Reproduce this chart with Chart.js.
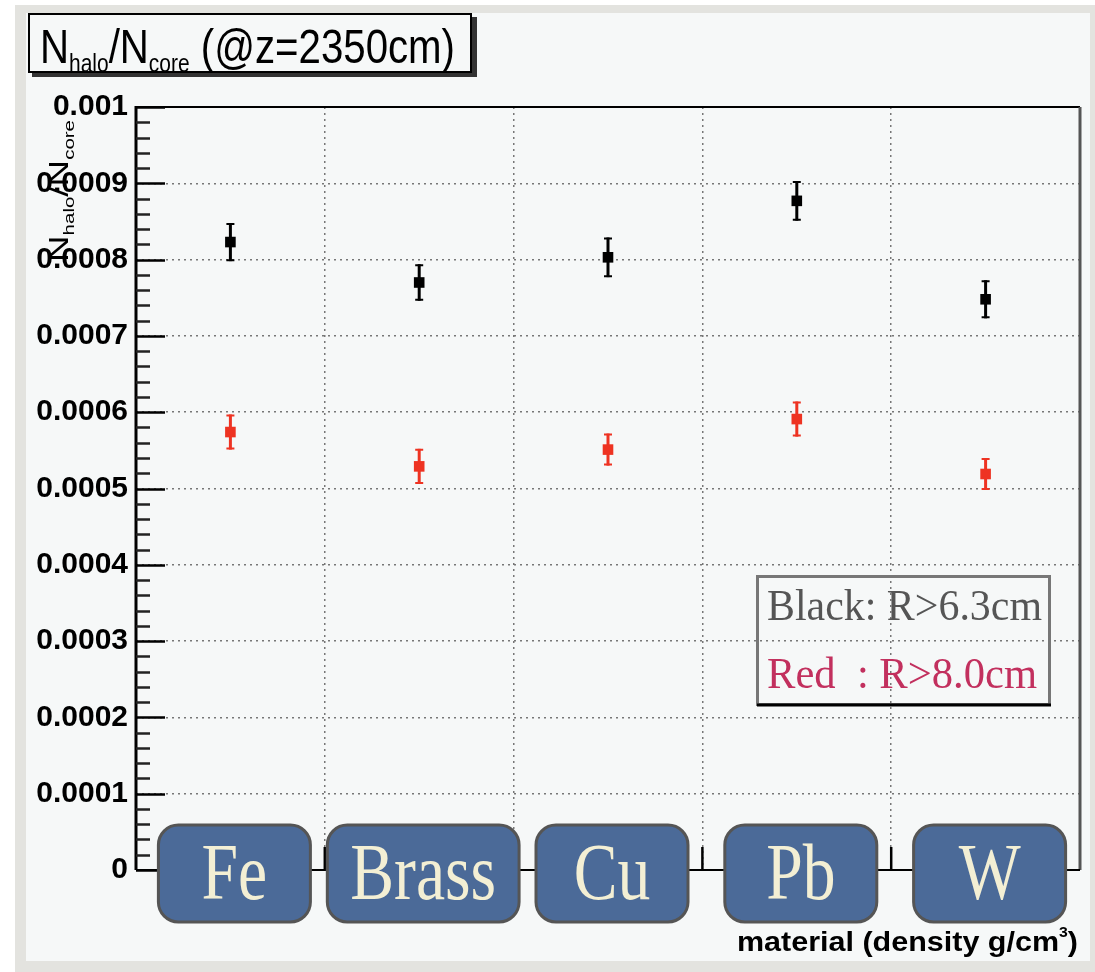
<!DOCTYPE html>
<html>
<head>
<meta charset="utf-8">
<script src="https://cdn.jsdelivr.net/npm/chart.js@4.4.1/dist/chart.umd.min.js"></script>
<style>
    html, body { margin: 0; padding: 0; background: #ffffff; }
    #wrap { width: 1095px; height: 972px; }
</style>
</head>
<body>
<div id="wrap"><canvas id="chart" width="1095" height="972"></canvas></div>
<script>
// data
const materials = ['Fe', 'Brass', 'Cu', 'Pb', 'W'];
const materialX = [1, 2, 3, 4, 5];
const blackValues = [0.000823, 0.000770, 0.000803, 0.000877, 0.000748];
const blackErrors = [0.000025, 0.000024, 0.000026, 0.000026, 0.000025];
const redValues = [0.000574, 0.000529, 0.000551, 0.000591, 0.000519];
const redErrors = [0.000023, 0.000023, 0.000021, 0.000023, 0.000021];
const xGridValues = [1.5, 2.5, 3.5, 4.5];
const legendLines = ['Black: R>6.3cm', 'Red  : R>8.0cm'];

const PANEL = '#f6f8f8';
const BLACK = '#000000';
const RED = '#ee3322';

function toPoints(values) {
    return values.map((v, i) => ({ x: materialX[i], y: v }));
}

// draw a run of text pieces (sub/superscripts), squeezed to a given width
function drawRich(ctx, parts, width) {
    let natural = 0;
    for (let p of parts) {
        ctx.font = p.font;
        natural += ctx.measureText(p.t).width;
    }
    const sx = width / natural;
    ctx.save();
    ctx.scale(sx, 1);
    let x = 0;
    for (let p of parts) {
        ctx.font = p.font;
        ctx.fillText(p.t, x, p.dy || 0);
        x += ctx.measureText(p.t).width;
    }
    ctx.restore();
}

const backgroundPlugin = {
    id: 'rootBackground',
    beforeDraw(chart) {
        const ctx = chart.ctx;
        ctx.save();
        ctx.fillStyle = '#ffffff';
        ctx.fillRect(0, 0, chart.width, chart.height);
        ctx.fillStyle = '#e3e3df';
        ctx.fillRect(15, 5, chart.width - 15, chart.height - 5);
        ctx.fillStyle = PANEL;
        ctx.fillRect(26, 13, 1064, 948);
        ctx.restore();
    }
};

const errorBarPlugin = {
    id: 'errorBars',
    beforeDatasetsDraw(chart) {
        const ctx = chart.ctx;
        const yScale = chart.scales.y;
        ctx.save();
        chart.data.datasets.forEach((ds, di) => {
            const meta = chart.getDatasetMeta(di);
            ctx.strokeStyle = ds.backgroundColor;
            meta.data.forEach((pt, i) => {
                const v = ds.data[i].y;
                const e = ds.errors[i];
                const yTop = yScale.getPixelForValue(v + e);
                const yBot = yScale.getPixelForValue(v - e);
                ctx.lineWidth = 3;
                ctx.beginPath();
                ctx.moveTo(pt.x, yTop);
                ctx.lineTo(pt.x, yBot);
                ctx.stroke();
                ctx.lineWidth = 2;
                ctx.beginPath();
                ctx.moveTo(pt.x - 4, yTop + 1);
                ctx.lineTo(pt.x + 4, yTop + 1);
                ctx.moveTo(pt.x - 4, yBot - 1);
                ctx.lineTo(pt.x + 4, yBot - 1);
                ctx.stroke();
            });
        });
        ctx.restore();
    }
};

const decorPlugin = {
    id: 'rootDecor',
    afterDraw(chart) {
        const ctx = chart.ctx;
        const area = chart.chartArea;
        const xScale = chart.scales.x;
        const yScale = chart.scales.y;
        ctx.save();

        // frame
        ctx.strokeStyle = BLACK;
        ctx.lineWidth = 2;
        ctx.beginPath();
        ctx.moveTo(area.left, area.top);
        ctx.lineTo(area.right, area.top);
        ctx.stroke();
        ctx.strokeStyle = '#555555';
        ctx.lineWidth = 3;
        ctx.beginPath();
        ctx.moveTo(area.right, area.top);
        ctx.lineTo(area.right, area.bottom);
        ctx.stroke();
        ctx.strokeStyle = BLACK;
        ctx.lineWidth = 2;
        ctx.beginPath();
        ctx.moveTo(area.left, area.bottom);
        ctx.lineTo(area.right, area.bottom);
        ctx.stroke();
        ctx.lineWidth = 3;
        ctx.beginPath();
        ctx.moveTo(area.left, area.top - 1);
        ctx.lineTo(area.left, area.bottom);
        ctx.stroke();

        // y ticks pointing inward, major + minor
        for (let k = 0; k <= 50; k++) {
            const v = k * 0.00002;
            const y = Math.round(yScale.getPixelForValue(v)) + 0.5;
            const major = k % 5 === 0;
            ctx.lineWidth = 2.5;
            ctx.strokeStyle = major ? BLACK : '#222222';
            ctx.beginPath();
            ctx.moveTo(area.left, y);
            ctx.lineTo(area.left + (major ? 29 : 14), y);
            ctx.stroke();
        }

        // x ticks pointing up
        ctx.lineWidth = 2.5;
        ctx.strokeStyle = BLACK;
        for (let v of xGridValues) {
            const x = xScale.getPixelForValue(v);
            ctx.beginPath();
            ctx.moveTo(x, area.bottom);
            ctx.lineTo(x, area.bottom - 23);
            ctx.stroke();
        }

        // material label boxes
        materials.forEach((m, i) => {
            const cx = xScale.getPixelForValue(materialX[i]) + 4;
            ctx.font = '80px "Liberation Serif", "DejaVu Serif", serif';
            const tw = ctx.measureText(m).width * 0.82;
            const w = Math.max(152, tw + 46);
            const top = area.bottom - 45;
            const h = 97;
            ctx.beginPath();
            ctx.roundRect(cx - w / 2, top, w, h, 20);
            ctx.fillStyle = '#4b6a98';
            ctx.fill();
            ctx.lineWidth = 3;
            ctx.strokeStyle = '#555555';
            ctx.stroke();
            ctx.save();
            ctx.translate(cx, top + 74);
            ctx.scale(0.82, 1);
            ctx.fillStyle = '#f3efd4';
            ctx.textAlign = 'center';
            ctx.fillText(m, 0, 0);
            ctx.restore();
        });

        // title box
        ctx.fillStyle = '#333333';
        ctx.fillRect(32, 17, 445, 60);
        ctx.fillStyle = PANEL;
        ctx.fillRect(28, 13, 444, 60);
        ctx.lineWidth = 2;
        ctx.strokeStyle = BLACK;
        ctx.strokeRect(29, 14, 442, 58);
        ctx.fillStyle = BLACK;
        ctx.save();
        ctx.translate(40, 63);
        const big = '48px "Liberation Sans", Arial, sans-serif';
        const sub = '25px "Liberation Sans", Arial, sans-serif';
        drawRich(ctx, [
            { t: 'N', font: big }, { t: 'halo', font: sub, dy: 9 },
            { t: '/', font: big }, { t: 'N', font: big },
            { t: 'core', font: sub, dy: 9 },
            { t: ' (@z=2350cm)', font: big }
        ], 415);
        ctx.restore();

        // y title, rotated
        ctx.save();
        ctx.translate(68, 262);
        ctx.rotate(-Math.PI / 2);
        ctx.fillStyle = BLACK;
        const yb = '27px "Liberation Sans", Arial, sans-serif';
        const ys = '15px "Liberation Sans", Arial, sans-serif';
        drawRich(ctx, [
            { t: 'N', font: yb }, { t: 'halo', font: ys, dy: 6 },
            { t: '/', font: yb }, { t: 'N', font: yb },
            { t: 'core', font: ys, dy: 6 }
        ], 142);
        ctx.restore();

        // x title
        ctx.save();
        ctx.translate(737, 951);
        ctx.fillStyle = BLACK;
        const xb = 'bold 27px "Liberation Sans", Arial, sans-serif';
        const xs = 'bold 14px "Liberation Sans", Arial, sans-serif';
        drawRich(ctx, [
            { t: 'material (density g/cm', font: xb },
            { t: '3', font: xs, dy: -14 },
            { t: ')', font: xb }
        ], 341);
        ctx.restore();

        // legend box (transparent, grid shows through)
        ctx.lineWidth = 3;
        ctx.strokeStyle = '#777777';
        ctx.strokeRect(757.5, 576.5, 292, 128);
        ctx.strokeStyle = BLACK;
        ctx.beginPath();
        ctx.moveTo(757, 705);
        ctx.lineTo(1051, 705);
        ctx.stroke();
        const lf = '44px "Liberation Serif", "DejaVu Serif", serif';
        ctx.save();
        ctx.translate(767, 620);
        ctx.fillStyle = '#555555';
        drawRich(ctx, [{ t: legendLines[0], font: lf }], 275);
        ctx.restore();
        ctx.save();
        ctx.translate(767, 688);
        ctx.fillStyle = '#c2305e';
        drawRich(ctx, [{ t: legendLines[1], font: lf }], 270);
        ctx.restore();

        ctx.restore();
    }
};

const config = {
    type: 'scatter',
    data: {
        datasets: [
            {
                label: 'Black: R>6.3cm',
                data: toPoints(blackValues),
                errors: blackErrors,
                backgroundColor: BLACK,
                borderColor: BLACK,
                borderWidth: 0,
                pointStyle: 'rect',
                pointRadius: 7.5,
            },
            {
                label: 'Red : R>8.0cm',
                data: toPoints(redValues),
                errors: redErrors,
                backgroundColor: RED,
                borderColor: RED,
                borderWidth: 0,
                pointStyle: 'rect',
                pointRadius: 7.5,
            }
        ]
    },
    options: {
        responsive: false,
        animation: false,
        layout: {
            padding: { top: 107, right: 15, left: 0, bottom: 0 }
        },
        scales: {
            x: {
                type: 'linear',
                min: 0.5,
                max: 5.5,
                afterBuildTicks: (scale) => {
                    scale.ticks = xGridValues.map(v => ({ value: v }));
                },
                afterFit: (scale) => { scale.height = 102; },
                border: { display: false, dash: [2, 4] },
                grid: {
                    color: '#777777',
                    lineWidth: 1.5,
                    tickLength: 0,
                    drawTicks: false,
                },
                ticks: { display: false }
            },
            y: {
                min: 0,
                max: 0.001,
                afterFit: (scale) => { scale.width = 136; },
                border: { display: false, dash: [2, 4] },
                grid: {
                    color: (c) => (c.tick.value <= 0 || c.tick.value >= 0.001) ? 'rgba(0,0,0,0)' : '#777777',
                    lineWidth: 1.5,
                    drawTicks: false,
                    tickLength: 0,
                },
                ticks: {
                    stepSize: 0.0001,
                    padding: 8,
                    color: BLACK,
                    font: { family: '"Liberation Sans", Arial, sans-serif', size: 30, weight: 'bold' },
                    callback: (v) => v === 0 ? '0' : Number(v).toFixed(4).replace(/0+$/, '')
                }
            }
        },
        plugins: {
            legend: { display: false },
            tooltip: { enabled: false },
            title: { display: false }
        }
    },
    plugins: [backgroundPlugin, errorBarPlugin, decorPlugin]
};

new Chart(document.getElementById('chart'), config);
</script>
</body>
</html>
